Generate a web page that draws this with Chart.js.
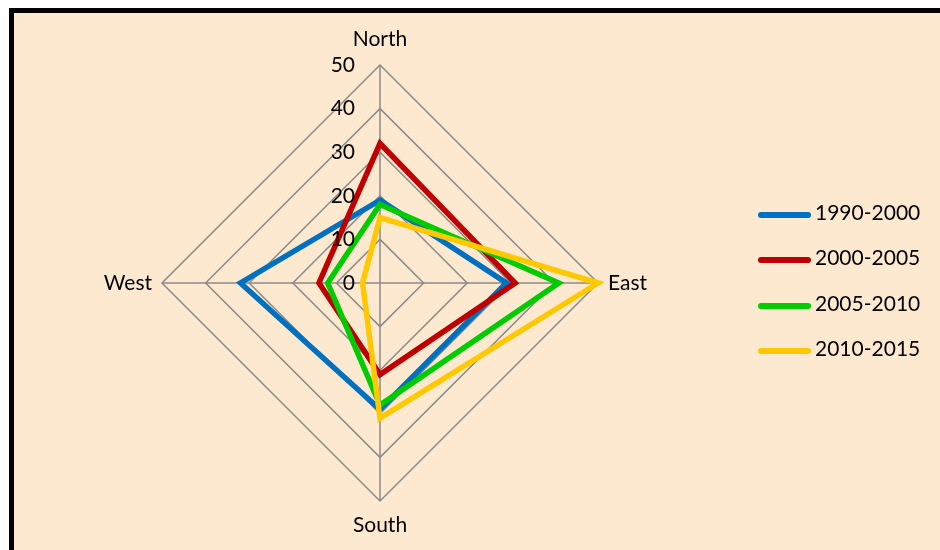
<!DOCTYPE html>
<html>
<head>
<meta charset="utf-8">
<script src="https://cdn.jsdelivr.net/npm/chart.js@4.4.0/dist/chart.umd.min.js"></script>
<style>
  html, body { margin: 0; padding: 0; background: #fff; }
  #wrap { position: relative; width: 940px; height: 550px; overflow: hidden; }
  #frame { position: absolute; left: 9px; top: 8px; width: 1000px; height: 600px; border: 5px solid #000; background: #FDE9CF; }
  #chart { position: absolute; left: 0; top: 0; }
  #legend { position: absolute; left: 758px; top: 199px; font-family: Lato, "Liberation Sans", sans-serif; font-size: 21px; color: #000; }
  .item { height: 45.3px; display: flex; align-items: flex-start; }
  .swatch { width: 53px; height: 6px; border-radius: 3px; margin-top: 13px; margin-right: 4px; }
</style>
</head>
<body>
<div id="wrap">
  <div id="frame"></div>
  <canvas id="chart" width="940" height="550"></canvas>
  <div id="legend"></div>
</div>
<script>
const directions = ['North', 'East', 'South', 'West'];
const periods = ['1990-2000', '2000-2005', '2005-2010', '2010-2015'];
const colors = ['#0070C0', '#C00000', '#00CC00', '#FFC800'];
const s1990 = [19, 29, 29, 32];
const s2000 = [32, 31, 21, 14];
const s2005 = [18, 41, 28, 12];
const s2010 = [15, 50, 31, 4];
const tickValues = [0, 10, 20, 30, 40, 50];

const series = [s1990, s2000, s2005, s2010];

// legend on the right
const legend = document.getElementById('legend');
periods.forEach((p, i) => {
  const row = document.createElement('div');
  row.className = 'item';
  row.innerHTML = '<div class="swatch" style="background:' + colors[i] + '"></div><span>' + p + '</span>';
  legend.appendChild(row);
});

// tick labels left of the North axis, and the direction names
const labelPlugin = {
  id: 'labels',
  afterDatasetsDraw(chart) {
    const s = chart.scales.r;
    const ctx = chart.ctx;
    ctx.save();
    ctx.fillStyle = '#000';
    ctx.font = '21px Lato, "Liberation Sans", sans-serif';
    ctx.textAlign = 'right';
    ctx.textBaseline = 'middle';
    tickValues.forEach(v => {
      const y = s.yCenter - s.getDistanceFromCenterForValue(v);
      ctx.fillText(String(v), s.xCenter - 25, y);
    });
    ctx.font = '21px Lato, "Liberation Sans", sans-serif';
    const aligns = ['center', 'left', 'center', 'right'];
    const gaps = [26, 10, 24, 10];
    directions.forEach((d, i) => {
      const p = s.getPointPosition(i, s.drawingArea + gaps[i]);
      ctx.textAlign = aligns[i];
      ctx.fillText(d, p.x, p.y);
    });
    ctx.restore();
  }
};

new Chart(document.getElementById('chart'), {
  type: 'radar',
  data: {
    labels: directions,
    datasets: series.map((d, i) => ({
      label: periods[i],
      data: d,
      borderColor: colors[i],
      backgroundColor: colors[i],
      borderWidth: 5.5,
      borderJoinStyle: 'miter',
      fill: false,
      pointRadius: 0,
      pointHoverRadius: 0,
      order: 4 - i
    }))
  },
  options: {
    responsive: false,
    animation: false,
    layout: { padding: { left: 162, right: 342, top: 65, bottom: 49 } },
    plugins: { legend: { display: false }, tooltip: { enabled: false } },
    scales: {
      r: {
        min: 0,
        max: 50,
        ticks: { stepSize: 10, display: false },
        grid: { color: '#8a8a8a', lineWidth: 1.5 },
        angleLines: { color: '#8a8a8a', lineWidth: 1.5 },
        pointLabels: { display: false }
      }
    }
  },
  plugins: [labelPlugin]
});
</script>
</body>
</html>
